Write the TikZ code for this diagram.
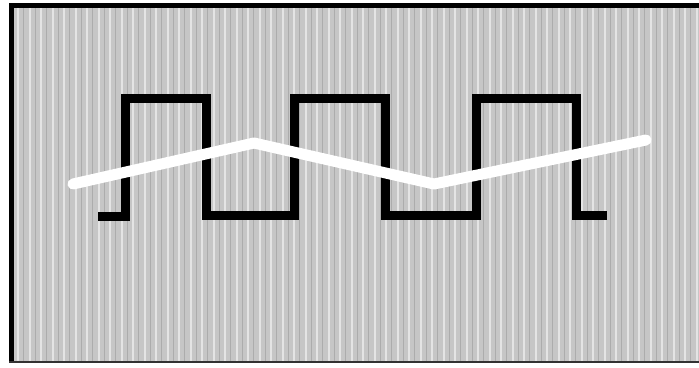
\documentclass[tikz,border=0pt]{standalone}
\usetikzlibrary{calc}
\definecolor{scrgray}{HTML}{C6C6C6}
\definecolor{stripe}{HTML}{E4E4E4}
\definecolor{stripedk}{HTML}{ACACAC}

\begin{document}
\begin{tikzpicture}[
  x=1pt, y=-1pt,
  frame/.style={line width=5pt, black},
  squarewave/.style={line width=9pt, black, line join=miter},
  trianglewave/.style={line width=11pt, white, line join=round, line cap=round},
]
\useasboundingbox (0,0) rectangle (699,367);

% Screen background
\fill[scrgray] (11,5) rectangle (699,362);
\foreach \x in {18,30,41,53,64,76,87,99,110,122,133,145,156,168,179,191,202,214,225,237,248,260,271,283,294,306,317,329,340,352,363,375,386,398,409,421,432,444,455,467,478,490,501,513,524,536,547,559,570,582,593,605,616,628,639,651,662,674,685,697}{
  \draw[stripe, line width=1.4pt] (\x,5) -- (\x,362);
  \draw[stripedk, line width=0.7pt] (\x+5,5) -- (\x+5,362);
}

% Frame
\draw[frame] (11,3) -- (11,362);
\draw[frame] (9,5.5) -- (699,5.5);
\draw[line width=2pt, black!80] (9,362) -- (699,362);

% Square wave
\draw[squarewave] (98,216) -- (125,216) -- (125,98) -- (206,98) -- (206,215)
  -- (294,215) -- (294,98) -- (385,98) -- (385,215) -- (476,215) -- (476,98)
  -- (576,98) -- (576,215) -- (607,215);

% Triangle wave
\draw[trianglewave] (73,184) -- (254,143) -- (434,184) -- (646,140);

\end{tikzpicture}
\end{document}
